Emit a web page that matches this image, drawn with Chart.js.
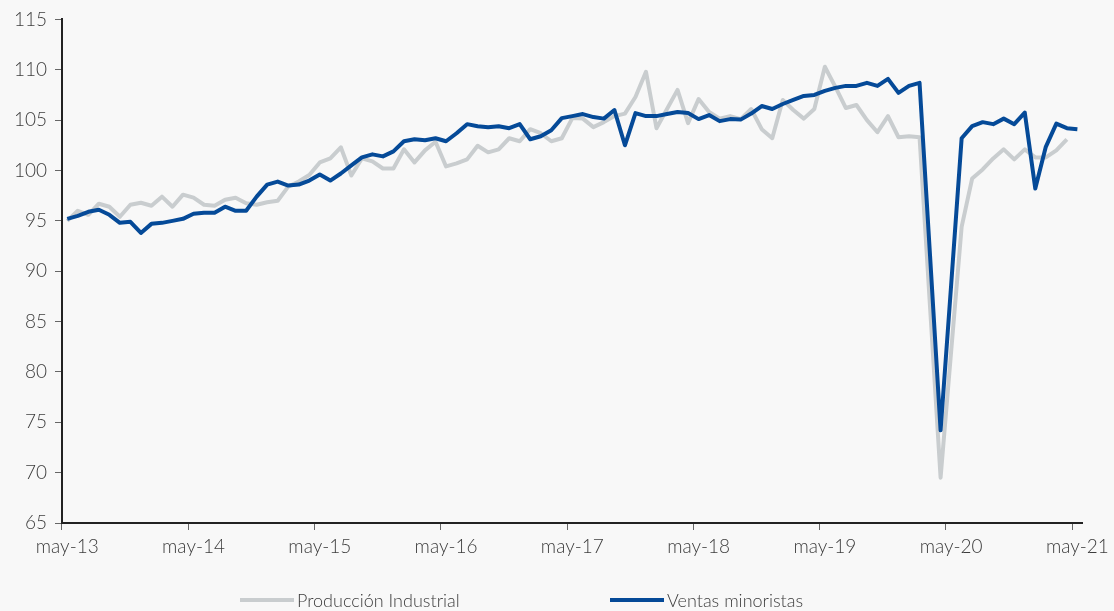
<!DOCTYPE html>
<html>
<head>
<meta charset="utf-8">
<script src="https://cdn.jsdelivr.net/npm/chart.js@4.4.0/dist/chart.umd.min.js"></script>
<style>
  html, body { margin: 0; padding: 0; background: #f8f8f8; }
  #wrap { width: 1114px; height: 611px; position: relative; }
</style>
</head>
<body>
<div id="wrap"><canvas id="grafico"></canvas></div>
<script>
// Categorías: meses de may-13 a may-21
const nombresMes = ['ene', 'feb', 'mar', 'abr', 'may', 'jun', 'jul', 'ago', 'sep', 'oct', 'nov', 'dic'];
const meses = [];
for (let k = 0; k < 97; k++) {
    const m = (4 + k) % 12;
    const a = 13 + Math.floor((4 + k) / 12);
    meses.push(nombresMes[m] + '-' + a);
}

// Etiquetas visibles del eje X
const etiquetasEje = ['may-13', 'may-14', 'may-15', 'may-16', 'may-17', 'may-18', 'may-19', 'may-20', 'may-21'];

// Ticks del eje Y
const ejeYMin = 65;
const ejeYMax = 115;
const ejeYPaso = 5;

// Producción Industrial (gris) - hasta abr-21
const produccionIndustrial = [
    95.0, 96.0, 95.6, 96.7, 96.4, 95.4, 96.6, 96.8, 96.5, 97.4, 96.4, 97.6,
    97.3, 96.6, 96.5, 97.1, 97.3, 96.75, 96.6, 96.85, 97.0, 98.4, 98.9, 99.55,
    100.8, 101.2, 102.3, 99.5, 101.2, 100.9, 100.2, 100.2, 102.1, 100.8, 102.0, 102.85,
    100.4, 100.7, 101.1, 102.45, 101.8, 102.1, 103.2, 102.9, 104.1, 103.7, 102.9, 103.2,
    105.2, 105.15, 104.3, 104.8, 105.4, 105.65, 107.3, 109.8, 104.2, 106.1, 108.0, 104.7,
    107.1, 105.8, 105.15, 105.4, 105.1, 106.1, 104.1, 103.2, 107.0, 106.0, 105.15, 106.1,
    110.3, 108.3, 106.2, 106.5, 105.0, 103.8, 105.4, 103.3, 103.4, 103.3, 86.4, 69.5,
    82.0, 94.4, 99.2, 100.1, 101.2, 102.1, 101.1, 102.1, 101.3, 101.3, 102.0, 103.1,
    null
];

// Ventas minoristas (azul) - hasta may-21
const ventasMinoristas = [
    95.2, 95.5, 95.9, 96.1, 95.6, 94.8, 94.9, 93.8, 94.7, 94.8, 95.0, 95.2,
    95.7, 95.8, 95.8, 96.4, 96.0, 96.0, 97.4, 98.6, 98.9, 98.5, 98.6, 99.0,
    99.6, 99.0, 99.7, 100.5, 101.3, 101.6, 101.4, 101.9, 102.9, 103.1, 103.0, 103.2,
    102.9, 103.7, 104.6, 104.4, 104.3, 104.4, 104.2, 104.6, 103.1, 103.4, 104.0, 105.2,
    105.4, 105.6, 105.3, 105.15, 106.0, 102.5, 105.7, 105.4, 105.4, 105.6, 105.8, 105.7,
    105.1, 105.5, 104.9, 105.1, 105.05, 105.65, 106.4, 106.1, 106.6, 107.0, 107.4, 107.5,
    107.9, 108.2, 108.4, 108.4, 108.7, 108.4, 109.1, 107.7, 108.4, 108.7, 91.5, 74.2,
    88.6, 103.2, 104.4, 104.8, 104.6, 105.15, 104.6, 105.75, 98.2, 102.35, 104.65, 104.2,
    104.1
];

const colorGris = '#c9cdcf';
const colorAzul = '#054a98';
const colorEje = '#222222';
const colorTexto = '#3c3c3c';
const fuente = 'Lato, "Open Sans", sans-serif';
const pesoFuente = '300';

// Leyenda dibujada abajo, con los dos elementos separados
const leyenda = {
    id: 'leyenda',
    afterDraw(chart) {
        const ctx = chart.ctx;
        const posiciones = [240, 610];
        const y = 600;
        ctx.save();
        chart.data.datasets.forEach((ds, i) => {
            const x = posiciones[i];
            ctx.strokeStyle = ds.borderColor;
            ctx.lineWidth = 4;
            ctx.lineCap = 'butt';
            ctx.beginPath();
            ctx.moveTo(x, y);
            ctx.lineTo(x + 54, y);
            ctx.stroke();
            ctx.fillStyle = colorTexto;
            ctx.font = pesoFuente + ' 18px ' + fuente;
            ctx.textBaseline = 'middle';
            ctx.textAlign = 'left';
            ctx.fillText(ds.label, x + 57, y + 1);
        });
        ctx.restore();
    }
};

new Chart(document.getElementById('grafico'), {
    type: 'line',
    data: {
        labels: meses,
        datasets: [
            {
                label: 'Producción Industrial',
                data: produccionIndustrial,
                borderColor: colorGris,
                backgroundColor: colorGris,
                borderWidth: 4,
                pointRadius: 0,
                borderJoinStyle: 'round',
                tension: 0,
                order: 2
            },
            {
                label: 'Ventas minoristas',
                data: ventasMinoristas,
                borderColor: colorAzul,
                backgroundColor: colorAzul,
                borderWidth: 4,
                pointRadius: 0,
                borderJoinStyle: 'round',
                tension: 0,
                order: 1
            }
        ]
    },
    options: {
        responsive: true,
        maintainAspectRatio: false,
        animation: false,
        layout: { padding: { top: 17, right: 31, bottom: 0, left: 0 } },
        plugins: {
            legend: { display: false },
            tooltip: { enabled: false }
        },
        scales: {
            x: {
                type: 'category',
                offset: true,
                afterFit: (scale) => { scale.height = 88; },
                border: { display: true, color: colorEje, width: 2 },
                grid: {
                    offset: true,
                    drawOnChartArea: false,
                    drawTicks: true,
                    tickLength: 7,
                    lineWidth: 1,
                    color: (ctx) => etiquetasEje.includes(meses[ctx.index]) ? '#666' : 'rgba(0,0,0,0)'
                },
                ticks: {
                    autoSkip: false,
                    maxRotation: 0,
                    padding: 5,
                    color: colorTexto,
                    font: { family: fuente, size: 19, weight: pesoFuente },
                    callback: function (value) {
                        const lab = this.getLabelForValue(value);
                        return etiquetasEje.includes(lab) ? lab : '';
                    }
                }
            },
            y: {
                min: ejeYMin,
                max: ejeYMax,
                afterFit: (scale) => { scale.width = 62; },
                border: { display: true, color: colorEje, width: 2 },
                grid: {
                    drawOnChartArea: false,
                    drawTicks: true,
                    tickLength: 7,
                    color: '#666'
                },
                ticks: {
                    stepSize: ejeYPaso,
                    padding: 8,
                    color: colorTexto,
                    font: { family: fuente, size: 19, weight: pesoFuente }
                }
            }
        }
    },
    plugins: [leyenda]
});
</script>
</body>
</html>
